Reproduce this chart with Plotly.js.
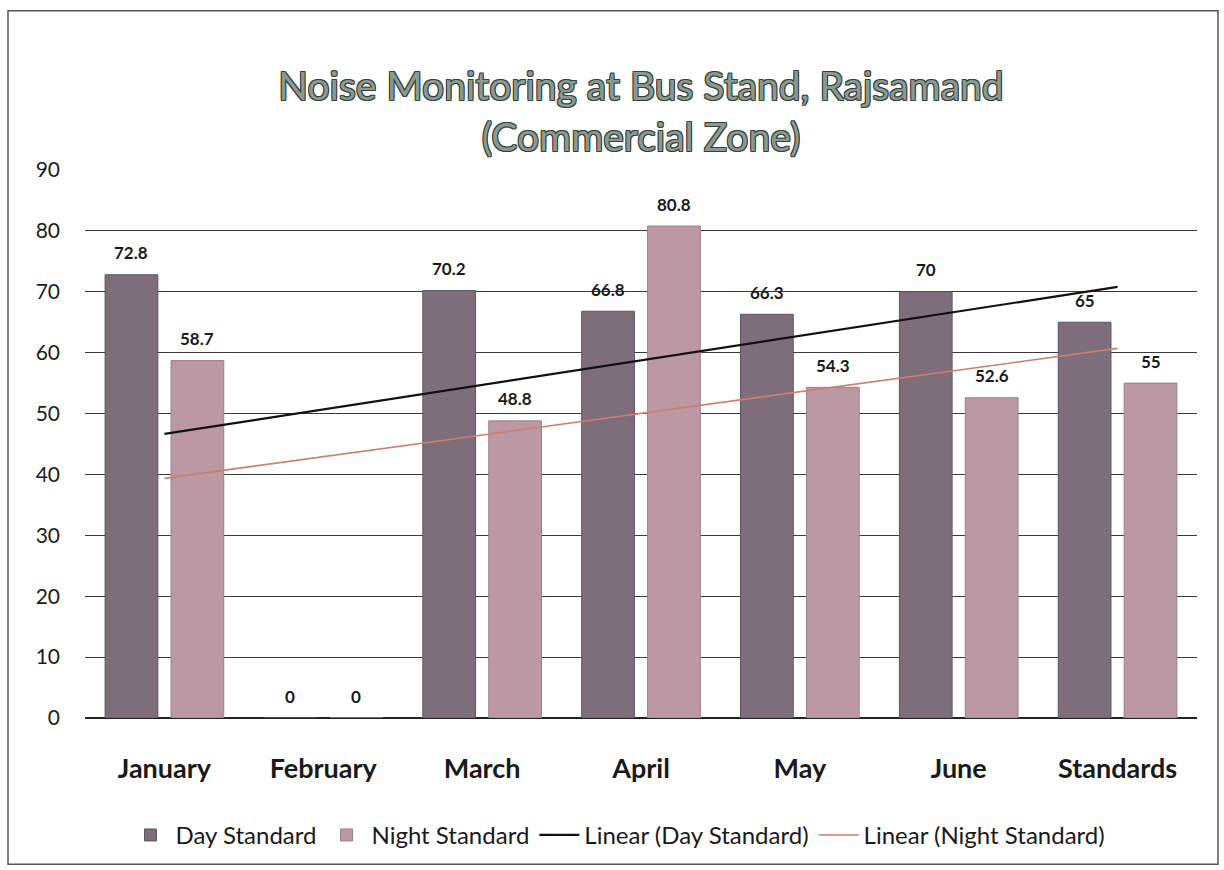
<!DOCTYPE html>
<html>
<head>
<meta charset="utf-8">
<script src="https://cdn.plot.ly/plotly-3.0.1.min.js"></script>
<style>
  html, body { margin: 0; padding: 0; background: #ffffff; }
  #chart { width: 1224px; height: 870px; }
</style>
</head>
<body>
<div id="chart"></div>
<script>
// ---- Data ----
const categories = ["January", "February", "March", "April", "May", "June", "Standards"];
const dayValues = [72.8, 0, 70.2, 66.8, 66.3, 70, 65];
const nightValues = [58.7, 0, 48.8, 80.8, 54.3, 52.6, 55];
const seriesNames = ["Day Standard", "Night Standard"];
const yTicks = [0, 10, 20, 30, 40, 50, 60, 70, 80, 90];
const titleLines = ["Noise Monitoring at Bus Stand, Rajsamand", "(Commercial Zone)"];

// Excel-style linear trendline (least squares over category index 1..n)
function linearTrend(vals) {
  const n = vals.length;
  const xs = vals.map((_, i) => i + 1);
  const mx = xs.reduce((a, b) => a + b, 0) / n;
  const my = vals.reduce((a, b) => a + b, 0) / n;
  let sxy = 0, sxx = 0;
  for (let i = 0; i < n; i++) { sxy += (xs[i] - mx) * (vals[i] - my); sxx += (xs[i] - mx) ** 2; }
  const slope = sxy / sxx, icpt = my - slope * mx;
  return xs.map(x => icpt + slope * x);
}

const FONT = "Lato, 'Open Sans', 'Liberation Sans', sans-serif";
const dayColor = "#7e6e7c";
const nightColor = "#bb98a4";

const traces = [
  {
    type: "bar", name: seriesNames[0], x: categories, y: dayValues,
    marker: { color: dayColor, line: { color: "#5d5466", width: 1 } },
    hoverinfo: "x+y"
  },
  {
    type: "bar", name: seriesNames[1], x: categories, y: nightValues,
    marker: { color: nightColor, line: { color: "#9a7f8c", width: 1 } },
    hoverinfo: "x+y"
  },
  {
    type: "scatter", mode: "lines", name: "Linear (" + seriesNames[0] + ")",
    x: categories, y: linearTrend(dayValues),
    line: { color: "#111111", width: 2.2 }, hoverinfo: "skip"
  },
  {
    type: "scatter", mode: "lines", name: "Linear (" + seriesNames[1] + ")",
    x: categories, y: linearTrend(nightValues),
    line: { color: "#cf7d6e", width: 1.6 }, hoverinfo: "skip"
  }
];

// plot area: x 85..1197 px, y 170..721 px
const L = 85, R = 1197, T = 170, B = 721;
const pw = R - L, ph = B - T;
const px = v => (v - L) / pw;
const py = v => (B - v) / ph;

const labelFont = { family: FONT, size: 17, color: "#1a1a1a", weight: "bold" };
function valueLabels(vals, shift) {
  return vals.map((v, i) => ({
    x: categories[i], y: v, xref: "x", yref: "y",
    text: String(v), showarrow: false,
    xanchor: "center", yanchor: "middle",
    xshift: shift, yshift: 22, font: labelFont
  }));
}

const layout = {
  width: 1224, height: 870,
  margin: { l: L, r: 1224 - R, t: T, b: 870 - B, pad: 0 },
  paper_bgcolor: "#ffffff", plot_bgcolor: "#ffffff",
  font: { family: FONT, color: "#1a1a1a" },
  title: {
    text: titleLines.join("<br>"),
    x: 0.5, xanchor: "center", xref: "paper",
    y: 1 - 100 / 870, yanchor: "middle", yref: "container",
    font: {
      family: FONT, size: 39, color: "#8a9a93",
      shadow: "1px 1px 0 #34403a, -1px -1px 0 #34403a, 1px -1px 0 #34403a, -1px 1px 0 #34403a"
    }
  },
  barmode: "group", bargap: 0.17, bargroupgap: 0.2,
  showlegend: true,
  legend: {
    orientation: "h", x: px(618), xanchor: "center", y: py(839), yanchor: "middle",
    font: { family: FONT, size: 24, color: "#1a1a1a" },
    itemwidth: 40, traceorder: "normal", bgcolor: "rgba(0,0,0,0)"
  },
  xaxis: {
    type: "category", showgrid: false, zeroline: false,
    showline: false, ticks: "",
    tickfont: { family: FONT, size: 27, color: "#1a1a1a", weight: "bold" },
    ticklabelstandoff: 32
  },
  yaxis: {
    range: [0, 90], tickvals: yTicks, ticktext: yTicks.map(String),
    showgrid: true, gridcolor: "#3a3a3a", gridwidth: 1,
    zeroline: true, zerolinecolor: "#222222", zerolinewidth: 1.5,
    showline: false, ticks: "",
    tickfont: { family: FONT, size: 21, color: "#1a1a1a" },
    ticklabelstandoff: 24
  },
  annotations: valueLabels(dayValues, -33).concat(valueLabels(nightValues, 33)),
  shapes: [
    {
      type: "rect", xref: "paper", yref: "paper", layer: "below",
      x0: px(8), x1: px(1218), y0: py(868), y1: py(10),
      line: { color: "#555555", width: 1.5 }, fillcolor: "rgba(0,0,0,0)"
    }
  ]
};

Plotly.newPlot("chart", traces, layout, { displayModeBar: false, staticPlot: true });
</script>
</body>
</html>
